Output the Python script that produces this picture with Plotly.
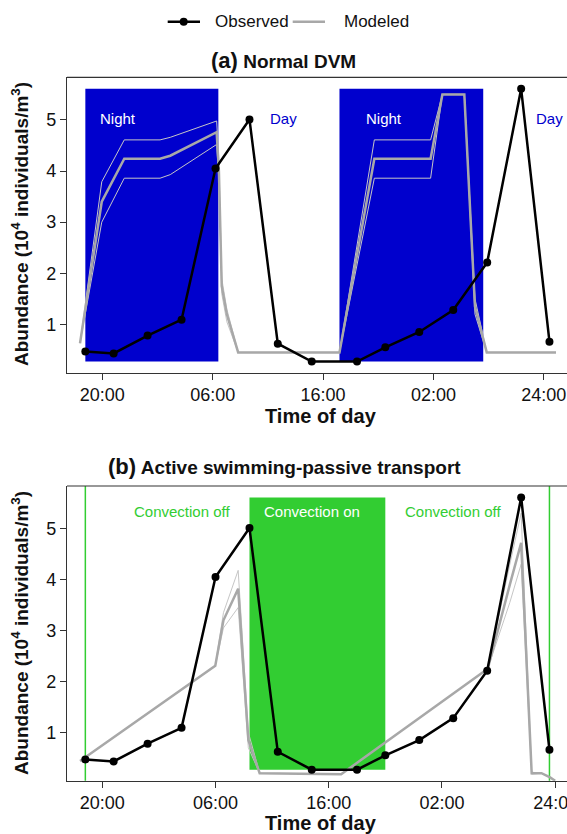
import plotly.graph_objects as go

# ---------------- data ----------------
OBS_T = [18.5, 21.0, 24.0, 27.0, 30.0, 33.0, 35.5, 38.5, 42.5, 45.0, 48.0, 51.0, 54.0, 57.0, 59.5]
OBS_Y = [0.47, 0.43, 0.78, 1.09, 4.05, 5.01, 0.62, 0.27, 0.27, 0.55, 0.85, 1.28, 2.21, 5.61, 0.66]

# panel (a) model
A_T   = [18.03, 19.95, 21.94, 25.1, 26.0, 30.1, 30.3, 30.55, 31.0, 32.0, 40.95, 44.03, 49.0, 50.04, 51.98, 52.92, 53.96, 60.08]
A_MID = [0.63, 3.40, 4.24, 4.24, 4.30, 4.76, 4.00, 1.75, 1.20, 0.45, 0.45, 4.24, 4.24, 5.50, 5.50, 1.35, 0.45, 0.45]
A_HI  = [0.63, 3.79, 4.61, 4.61, 4.66, 4.98, 4.20, 1.90, 1.30, 0.45, 0.45, 4.61, 4.61, 5.50, 5.50, 1.50, 0.45, 0.45]
A_LO  = [0.63, 3.00, 3.86, 3.86, 3.93, 4.52, 3.80, 1.60, 1.05, 0.45, 0.45, 3.86, 3.86, 5.50, 5.50, 1.20, 0.45, 0.45]

# panel (b) model
B_T   = [18.03, 29.98, 30.7, 32.0, 32.9, 33.9, 41.1, 54.05, 56.0, 57.0, 57.93, 58.8, 59.55, 60.0]
B_MID = [0.44, 2.31, 3.20, 3.82, 0.85, 0.20, 0.18, 2.25, 3.90, 4.72, 0.20, 0.20, 0.12, 0.05]
B_HI  = [0.44, 2.31, 3.35, 4.18, 1.00, 0.20, 0.18, 2.25, 4.30, 5.30, 0.22, 0.20, 0.12, 0.05]
B_LO  = [0.44, 2.31, 3.05, 3.45, 0.70, 0.20, 0.18, 2.25, 3.55, 4.30, 0.18, 0.20, 0.12, 0.05]

NIGHT_START = [18.5, 40.95]
NIGHT_END = [30.25, 53.65]
CONV_ON = [33.0, 45.0]
CONV_LINES = [18.5, 59.5]

TICK_TEXT = ["20:00", "06:00", "16:00", "02:00", "24:00"]
A_TICKS = [20.0, 29.75, 39.5, 49.25, 59.0]
B_TICKS = [20.0, 30.0, 40.0, 50.0, 60.05]

XR = [16.88, 61.05]
YR = [0.053, 5.835]

BLUE = "#0000CD"
GREEN = "#32CD32"
THICK = "#A8A8A8"
THIN = "#C6C6C6"
FONT = "Liberation Sans, Arial, sans-serif"

fig = go.Figure()

def add_panel(xa, ya, t, mid, hi, lo):
    for ys in (hi, lo):
        fig.add_trace(go.Scatter(x=t, y=ys, mode="lines", xaxis=xa, yaxis=ya,
                                 line=dict(color=THIN, width=1), showlegend=False, hoverinfo="skip"))
    fig.add_trace(go.Scatter(x=t, y=mid, mode="lines", xaxis=xa, yaxis=ya,
                             line=dict(color=THICK, width=2.5), showlegend=False, hoverinfo="skip"))
    fig.add_trace(go.Scatter(x=OBS_T, y=OBS_Y, mode="lines+markers", xaxis=xa, yaxis=ya,
                             line=dict(color="black", width=2.5),
                             marker=dict(color="black", size=8), showlegend=False))

add_panel("x", "y", A_T, A_MID, A_HI, A_LO)
add_panel("x2", "y2", B_T, B_MID, B_HI, B_LO)

ymin, ymax = min(OBS_Y), max(OBS_Y)
shapes = []
for s, e in zip(NIGHT_START, NIGHT_END):
    shapes.append(dict(type="rect", xref="x", yref="y", x0=s, x1=e, y0=ymin, y1=ymax,
                       fillcolor=BLUE, line=dict(width=0), layer="below"))
shapes.append(dict(type="rect", xref="x2", yref="y2", x0=CONV_ON[0], x1=CONV_ON[1], y0=ymin, y1=ymax,
                   fillcolor=GREEN, line=dict(width=0), layer="below"))
for xv in CONV_LINES:
    shapes.append(dict(type="line", xref="x2", yref="y2 domain", x0=xv, x1=xv, y0=0, y1=1,
                       line=dict(color=GREEN, width=1.5), layer="below"))

A_DOM = [1 - 372.7 / 834, 1 - 77.3 / 834]
B_DOM = [1 - 780.7 / 834, 1 - 486 / 834]
for d in (A_DOM, B_DOM):
    shapes.append(dict(type="line", xref="paper", yref="paper", x0=0, x1=1.01, y0=d[1], y1=d[1],
                       line=dict(color="#333", width=1.2)))

# legend (manual)
LY = 1 - 21.7 / 834
shapes.append(dict(type="line", xref="paper", yref="paper", x0=0.2014, x1=0.266, y0=LY, y1=LY,
                   line=dict(color="black", width=2.5)))
shapes.append(dict(type="circle", xref="paper", yref="paper", x0=0.2334 - 0.008, x1=0.2334 + 0.008,
                   y0=LY - 0.0048, y1=LY + 0.0048, fillcolor="black", line=dict(width=0)))
shapes.append(dict(type="line", xref="paper", yref="paper", x0=0.4514, x1=0.516, y0=LY, y1=LY,
                   line=dict(color=THICK, width=2.5)))

ann = []
ann.append(dict(text="Observed", xref="paper", yref="paper", x=0.2926, y=LY, xanchor="left",
                yanchor="middle", showarrow=False, font=dict(size=17, color="#111")))
ann.append(dict(text="Modeled", xref="paper", yref="paper", x=0.5494, y=LY, xanchor="left",
                yanchor="middle", showarrow=False, font=dict(size=17, color="#111")))

ann.append(dict(text="<b><span style='font-size:22px'>(a)</span> Normal DVM</b>", xref="paper", yref="paper",
                x=0.432, y=1 - 60 / 834, xanchor="center", yanchor="middle", showarrow=False,
                font=dict(size=19, color="#111")))
ann.append(dict(text="<b><span style='font-size:22px'>(b)</span> Active swimming-passive transport</b>",
                xref="paper", yref="paper", x=0.434, y=1 - 467 / 834, xanchor="center", yanchor="middle",
                showarrow=False, font=dict(size=19, color="#111")))

for yc in (1 - 416 / 834, 1 - 823 / 834):
    ann.append(dict(text="<b>Time of day</b>", xref="paper", yref="paper", x=0.5086, y=yc,
                    xanchor="center", yanchor="middle", showarrow=False, font=dict(size=20, color="#111")))
for yc in (1 - 224 / 834, 1 - 633 / 834):
    ann.append(dict(text="<b>Abundance (10<sup>4</sup> individuals/m<sup>3</sup>)</b>", xref="paper",
                    yref="paper", x=-0.094, y=yc, xanchor="center", yanchor="middle", textangle=-90,
                    showarrow=False, font=dict(size=19, color="#111")))

# panel texts
for txt, xv, col in [("Night", 21.41, "white"), ("Day", 35.99, BLUE), ("Night", 44.88, "white"), ("Day", 59.49, BLUE)]:
    ann.append(dict(text=txt, xref="x", yref="y", x=xv, y=5.03, showarrow=False,
                    font=dict(size=15, color=col)))
for txt, xv, col in [("Convection off", 27.0, GREEN), ("Convection on", 38.5, "white"), ("Convection off", 51.0, GREEN)]:
    ann.append(dict(text=txt, xref="x2", yref="y2", x=xv, y=5.33, showarrow=False,
                    font=dict(size=15, color=col)))

axis_common = dict(showgrid=False, zeroline=False, showline=True, linecolor="#333", linewidth=1.2,
                   ticks="outside", ticklen=6, tickcolor="#333", tickfont=dict(size=18, color="#111"))

fig.update_layout(
    width=567, height=834,
    margin=dict(l=67, r=0, t=0, b=0),
    paper_bgcolor="white", plot_bgcolor="white",
    font=dict(family=FONT),
    showlegend=False,
    xaxis=dict(domain=[0, 1], range=XR, anchor="y", tickvals=A_TICKS, ticktext=TICK_TEXT,
               ticklabeloverflow="allow", **axis_common),
    yaxis=dict(domain=A_DOM, range=YR, anchor="x", tickvals=[1, 2, 3, 4, 5], **axis_common),
    xaxis2=dict(domain=[0, 1], range=XR, anchor="y2", tickvals=B_TICKS, ticktext=TICK_TEXT,
                ticklabeloverflow="allow", **axis_common),
    yaxis2=dict(domain=B_DOM, range=YR, anchor="x2", tickvals=[1, 2, 3, 4, 5], **axis_common),
    shapes=shapes,
    annotations=ann,
)
fig.update_xaxes(automargin=False)
fig.update_yaxes(automargin=False)

fig.write_html("out.html", config={"displayModeBar": False},
               post_script="document.body.style.margin='0';document.body.style.overflow='hidden';")
